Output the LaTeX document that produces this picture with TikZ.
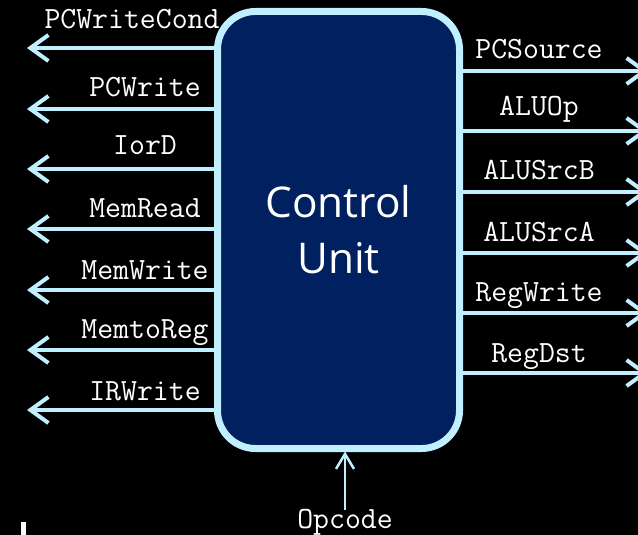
\documentclass[tikz,border=0pt]{standalone}
\usepackage{fontspec}
\usetikzlibrary{arrows.meta}
\newfontfamily\cufont{Open Sans}
\definecolor{wirec}{RGB}{192,240,255}
\definecolor{navyc}{HTML}{002060}
\begin{document}
\begin{tikzpicture}[x=1bp,y=-1bp,
  cubox/.style={draw=wirec, fill=navyc, line width=7bp, rounded corners=38bp,
    minimum width=242bp, minimum height=437bp, inner sep=0pt,
    text=white, align=center, font=\cufont\fontsize{42.5}{56}\selectfont},
  arr/.style={draw=wirec, line width=4bp, -{Straight Barb[length=18bp,width=26bp]}},
  oparr/.style={draw=wirec, line width=2.5bp, -{Straight Barb[length=15bp,width=18bp]}},
  lab/.style={text=white, anchor=base, inner sep=0pt, font=\ttfamily\fontsize{31}{34}\selectfont}]
\useasboundingbox (0,0) rectangle (638,535);
\fill[black] (0,0) rectangle (638,535);
\clip (0,0) rectangle (638,535);
\fill[white] (21,522) rectangle (26,535);

\node[cubox] (cu) at (338.5,230) {Control\\Unit};

% left outputs
\coordinate (l1) at (27,48);
\coordinate (l2) at (27,109);
\coordinate (l3) at (27,169);
\coordinate (l4) at (27,229);
\coordinate (l5) at (27,290);
\coordinate (l6) at (27,350);
\coordinate (l7) at (27,410);
\foreach \i in {1,...,7}{\draw[arr] (cu.west |- l\i) -- (l\i);}
\node[lab] (t1) at (132,29) {PCWriteCond};
\node[lab] (t2) at (145,97) {PCWrite};
\node[lab] (t3) at (145,155) {IorD};
\node[lab] (t4) at (145,218) {MemRead};
\node[lab] (t5) at (145,279) {MemWrite};
\node[lab] (t6) at (145,338) {MemtoReg};
\node[lab] (t7) at (145,400) {IRWrite};

% right outputs
\coordinate (r1) at (648,71);
\coordinate (r2) at (648,131);
\coordinate (r3) at (648,192);
\coordinate (r4) at (648,253);
\coordinate (r5) at (648,313);
\coordinate (r6) at (648,373);
\foreach \i in {1,...,6}{\draw[arr] (cu.east |- r\i) -- (r\i);}
\node[lab] (s1) at (539,59) {PCSource};
\node[lab] (s2) at (539,116) {ALUOp};
\node[lab] (s3) at (539,180) {ALUSrcB};
\node[lab] (s4) at (539,242) {ALUSrcA};
\node[lab] (s5) at (539,301) {RegWrite};
\node[lab] (s6) at (539,362) {RegDst};

% opcode input
\node[lab] (op) at (345,528) {Opcode};
\coordinate (opb) at (345,510);
\draw[oparr, shorten >=-0.5bp] (opb) -- (opb |- cu.south);
\end{tikzpicture}
\end{document}
